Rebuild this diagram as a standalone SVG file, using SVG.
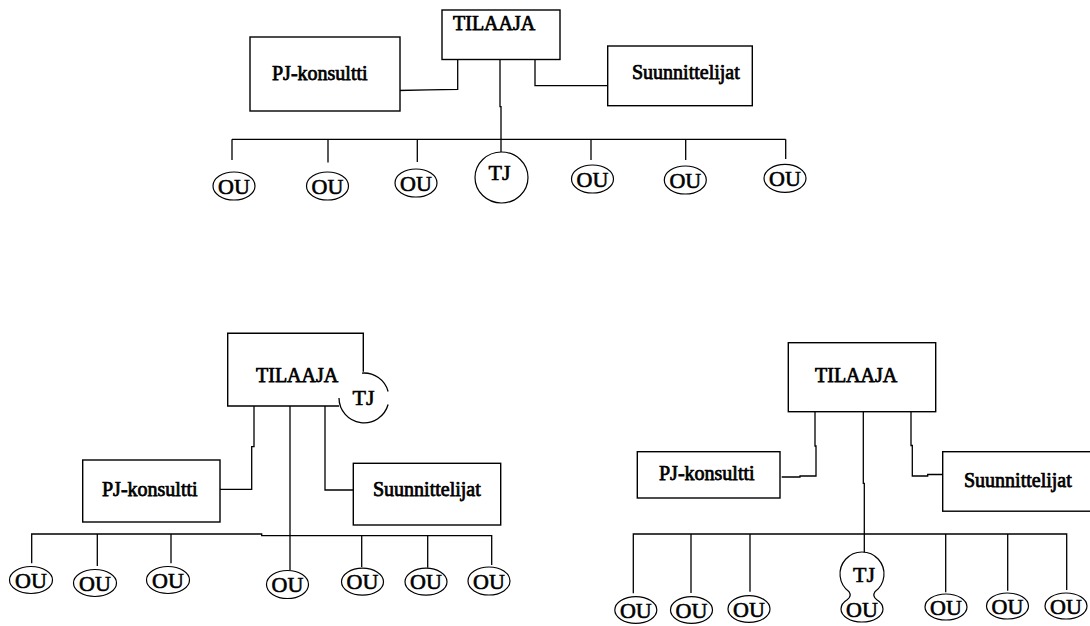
<svg xmlns="http://www.w3.org/2000/svg" width="1090" height="626" viewBox="0 0 1090 626">
  <style>
    .box { fill: #fff; stroke: #000; stroke-width: 1.4; }
    .ln { fill: none; stroke: #000; stroke-width: 1.3; }
    .lbl { font-family: "Liberation Serif", "Times New Roman", serif; font-size: 20px; fill: #000; stroke: #000; stroke-width: 0.75; }
    .sm { font-family: "Liberation Serif", "Times New Roman", serif; font-size: 22px; fill: #000; stroke: #000; stroke-width: 0.6; text-anchor: middle; }
    .ell { fill: #fff; stroke: #000; stroke-width: 1.2; }
  </style>
  <rect width="1090" height="626" fill="#fff"/>

  <!-- ===== Organisation 1 ===== -->
  <g id="org1-connectors">
    <polyline class="ln" points="398,90.5 428,89.8 457.7,89.3 457.7,59.5"/>
    <polyline class="ln" points="500,59.5 500,106.7 501,106.7 501,152"/>
    <polyline class="ln" points="535,59.5 535,85.7 607.7,85.7"/>
    <line class="ln" x1="232" y1="139.3" x2="785.7" y2="139.3"/>
    <line class="ln" x1="232" y1="139.3" x2="232" y2="160"/>
    <line class="ln" x1="328" y1="139.3" x2="328" y2="162.5"/>
    <line class="ln" x1="417.3" y1="139.3" x2="417.3" y2="162"/>
    <line class="ln" x1="591" y1="139.3" x2="591" y2="160"/>
    <line class="ln" x1="685.7" y1="139.3" x2="685.7" y2="160"/>
    <line class="ln" x1="785.7" y1="139.3" x2="785.7" y2="159"/>
  </g>
  <g id="org1-tilaaja">
    <rect class="box" x="442" y="10" width="118" height="49.5"/>
    <text class="lbl" x="453" y="30">TILAAJA</text>
  </g>
  <g id="org1-pj">
    <rect class="box" x="250" y="37" width="150" height="74"/>
    <text class="lbl" x="272" y="80">PJ-konsultti</text>
  </g>
  <g id="org1-suunnittelijat">
    <rect class="box" x="607.7" y="46" width="144.6" height="59.7"/>
    <text class="lbl" x="632" y="79">Suunnittelijat</text>
  </g>
  <g id="org1-tj">
    <ellipse class="ell" cx="501.5" cy="177.5" rx="26.5" ry="25.5"/>
    <text class="sm" x="499.5" y="180">TJ</text>
  </g>
  <g id="org1-ou1"><ellipse class="ell" cx="234" cy="186" rx="21" ry="14"/><text class="sm" x="234" y="193.5">OU</text></g>
  <g id="org1-ou2"><ellipse class="ell" cx="327.5" cy="186" rx="21" ry="14"/><text class="sm" x="327.5" y="193.5">OU</text></g>
  <g id="org1-ou3"><ellipse class="ell" cx="416" cy="183" rx="21" ry="14"/><text class="sm" x="416" y="190.5">OU</text></g>
  <g id="org1-ou4"><ellipse class="ell" cx="592.5" cy="179" rx="21" ry="14"/><text class="sm" x="592.5" y="186.5">OU</text></g>
  <g id="org1-ou5"><ellipse class="ell" cx="685.3" cy="180" rx="21" ry="14"/><text class="sm" x="685.3" y="187.5">OU</text></g>
  <g id="org1-ou6"><ellipse class="ell" cx="785" cy="178.3" rx="21" ry="14"/><text class="sm" x="785" y="185.8">OU</text></g>

  <!-- ===== Organisation 2 ===== -->
  <g id="org2-connectors">
    <polyline class="ln" points="254,406 254,446.7 251.7,446.7 251.7,489.3 220,489.3"/>
    <line class="ln" x1="290" y1="406" x2="290" y2="570"/>
    <polyline class="ln" points="325,406 325,490 353.3,490"/>
    <polyline class="ln" points="31.7,563.3 31.7,534 261.7,534 261.7,535.7 491.7,535.7 491.7,565"/>
    <line class="ln" x1="97.3" y1="534" x2="97.3" y2="566"/>
    <line class="ln" x1="171" y1="534" x2="171" y2="563.3"/>
    <line class="ln" x1="361.7" y1="535.7" x2="361.7" y2="567"/>
    <line class="ln" x1="427.7" y1="535.7" x2="427.7" y2="567.7"/>
  </g>
  <g id="org2-tilaaja">
    <polyline class="ln" style="stroke-width:1.4" points="363.3,371.7 363.3,333.3 227.7,333.3 227.7,406 339,406"/>
    <text class="lbl" x="256" y="382">TILAAJA</text>
  </g>
  <g id="org2-tj">
    <path class="ln" d="M 362 373.1 A 25 25 0 0 1 388.1 391.5"/>
    <path class="ln" d="M 388.1 404.5 A 25 25 0 0 1 339 398"/>
    <text class="sm" x="363.5" y="405">TJ</text>
  </g>
  <g id="org2-pj">
    <rect class="box" x="82.7" y="460" width="137.3" height="62"/>
    <text class="lbl" x="102" y="495.5">PJ-konsultti</text>
  </g>
  <g id="org2-suunnittelijat">
    <rect class="box" x="353.3" y="463.3" width="147.4" height="61.7"/>
    <text class="lbl" x="373" y="495.5">Suunnittelijat</text>
  </g>
  <g id="org2-ou1"><ellipse class="ell" cx="31" cy="580" rx="21.5" ry="13.5"/><text class="sm" x="31" y="587.5">OU</text></g>
  <g id="org2-ou2"><ellipse class="ell" cx="95" cy="583" rx="21.5" ry="13.5"/><text class="sm" x="95" y="590.5">OU</text></g>
  <g id="org2-ou3"><ellipse class="ell" cx="168" cy="580" rx="21.5" ry="13.5"/><text class="sm" x="168" y="587.5">OU</text></g>
  <g id="org2-ou4"><ellipse class="ell" cx="287.5" cy="584.5" rx="21" ry="14"/><text class="sm" x="287.5" y="592">OU</text></g>
  <g id="org2-ou5"><ellipse class="ell" cx="362.5" cy="581.7" rx="21" ry="13.5"/><text class="sm" x="362.5" y="589.2">OU</text></g>
  <g id="org2-ou6"><ellipse class="ell" cx="426" cy="581.7" rx="21" ry="13.5"/><text class="sm" x="426" y="589.2">OU</text></g>
  <g id="org2-ou7"><ellipse class="ell" cx="489" cy="581" rx="21" ry="14"/><text class="sm" x="489" y="588.5">OU</text></g>

  <!-- ===== Organisation 3 ===== -->
  <g id="org3-connectors">
    <polyline class="ln" points="815,411.7 815,446 816,446 816,476 800,476 800,477 781.7,477"/>
    <polyline class="ln" points="863.3,411.7 863.3,483.3 864.3,483.3 864.3,553"/>
    <polyline class="ln" points="911,411.7 911,445.5 912.3,445.5 912.3,476 927.7,476 927.7,474.5 942.7,474.5"/>
    <polyline class="ln" points="633.3,593.3 633.3,534 1066.7,534 1066.7,590"/>
    <line class="ln" x1="691" y1="534" x2="691" y2="593"/>
    <line class="ln" x1="750" y1="534" x2="750" y2="591.7"/>
    <line class="ln" x1="945.7" y1="534" x2="945.7" y2="592.3"/>
    <line class="ln" x1="1007.7" y1="534" x2="1007.7" y2="590.7"/>
  </g>
  <g id="org3-tilaaja">
    <rect class="box" x="788.3" y="342.7" width="147.4" height="69"/>
    <text class="lbl" x="815" y="382">TILAAJA</text>
  </g>
  <g id="org3-pj">
    <rect class="box" x="637.3" y="451.7" width="142.7" height="46.3"/>
    <text class="lbl" x="659" y="480">PJ-konsultti</text>
  </g>
  <g id="org3-suunnittelijat">
    <rect class="box" x="942.7" y="451.7" width="160" height="59.5"/>
    <text class="lbl" x="964" y="487">Suunnittelijat</text>
  </g>
  <g id="org3-tj-ou">
    <path class="ell" d="M 849.1 591.8 A 22 22 0 1 1 874.9 591.8 C 873 594.5 874 597.5 876.85 599.8 A 21 13 0 1 1 847.15 599.8 C 850 597.5 851 594.5 849.1 591.8 Z"/>
    <text class="sm" x="864" y="581.5">TJ</text>
    <text class="sm" x="862" y="617">OU</text>
  </g>
  <g id="org3-ou1"><ellipse class="ell" cx="635.8" cy="610" rx="21" ry="13.3"/><text class="sm" x="635.8" y="617.5">OU</text></g>
  <g id="org3-ou2"><ellipse class="ell" cx="691.5" cy="610" rx="21" ry="13.3"/><text class="sm" x="691.5" y="617.5">OU</text></g>
  <g id="org3-ou3"><ellipse class="ell" cx="749" cy="609" rx="21" ry="13.3"/><text class="sm" x="749" y="616.5">OU</text></g>
  <g id="org3-ou4"><ellipse class="ell" cx="946" cy="607" rx="21" ry="13"/><text class="sm" x="946" y="614.5">OU</text></g>
  <g id="org3-ou5"><ellipse class="ell" cx="1007.5" cy="606" rx="21" ry="13"/><text class="sm" x="1007.5" y="613.5">OU</text></g>
  <g id="org3-ou6"><ellipse class="ell" cx="1066" cy="606" rx="21" ry="13"/><text class="sm" x="1066" y="613.5">OU</text></g>
</svg>
